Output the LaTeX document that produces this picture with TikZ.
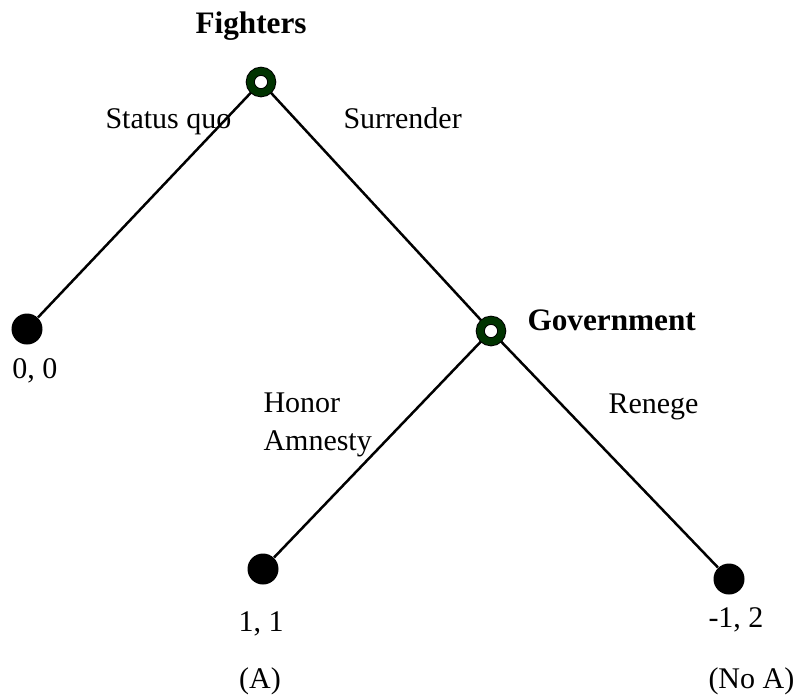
\documentclass[tikz,border=0pt]{standalone}
\usepackage{fontspec}
\setmainfont{Liberation Serif}
\usetikzlibrary{backgrounds}
\definecolor{movegreen}{RGB}{0,51,0}
\begin{document}
\begin{tikzpicture}[x=0.4pt,y=-0.4pt,
    decision/.style={circle, fill=white, draw=black, double=movegreen, double distance=2.8pt, line width=0.4pt, minimum size=8.6pt, inner sep=0pt},
    payoff/.style={circle, fill=black, minimum size=12.4pt, inner sep=0pt},
    branch/.style={line width=1pt},
    lbl/.style={anchor=base west, inner sep=0pt, font=\fontsize{12}{14}\selectfont},
    plbl/.style={lbl, font=\fontsize{12.5}{15}\selectfont\bfseries}]

            \useasboundingbox (0,0) rectangle (794,696);

            \node[decision] (F) at (261, 82) {};
            \node[decision] (G) at (491, 331) {};

            \node[payoff] (L0) at (27, 329) {};
            \node[payoff] (L1) at (263, 569) {};
            \node[payoff] (L2) at (729, 579) {};

            \begin{scope}[on background layer]
                \draw[branch] (F) -- (L0);
                \draw[branch] (F) -- (G);
                \draw[branch] (G) -- (L1);
                \draw[branch] (G) -- (L2);
            \end{scope}

            \node[plbl] (fighters) at (195, 33) {Fighters};
            \node[plbl] (government) at (527, 330) {Government};

            \node[lbl] (sq) at (105, 128) {Status quo};
            \node[lbl] (sur) at (343, 128) {Surrender};
            \node[lbl] (honor) at (263, 412) {Honor};
            \node[lbl] (amnesty) at (263, 450) {Amnesty};
            \node[lbl] (renege) at (608, 413) {Renege};

            \node[lbl] (p0) at (12, 378) {0, 0};
            \node[lbl, anchor=base] (p1) at (261, 631) {1, 1};
            \node[lbl] (p2) at (708, 627) {-1, 2};

            \node[lbl, anchor=base] (oa) at (260, 688) {(A)};
            \node[lbl] (ona) at (708, 688) {(No A)};
        \end{tikzpicture}
\end{document}
